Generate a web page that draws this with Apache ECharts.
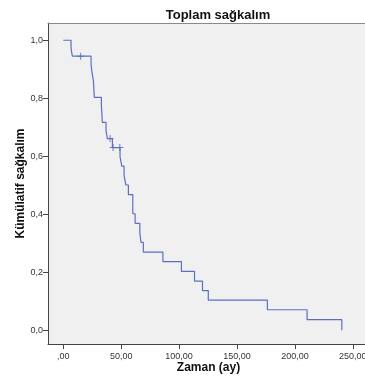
<!DOCTYPE html>
<html>
<head>
<meta charset="utf-8">
<script src="https://cdn.jsdelivr.net/npm/echarts@6/dist/echarts.min.js"></script>
<style>
html,body{margin:0;padding:0;background:#fff;}
#c{width:365px;height:385px;}
</style>
</head>
<body>
<div id="c"></div>
<script>
// Kaplan-Meier step data (time in months, cumulative survival)
const times = [0, 6.7, 7.8, 24, 24.8, 26, 26.8, 32.9, 33.7, 36.9, 38.1, 42.4, 49, 50.5, 52.5, 54, 56.2, 60, 62, 66.1, 67.1, 69.1, 86, 102, 113.3, 120.2, 125.2, 176.2, 210.5, 240.5];
const survival = [1.0, 0.972, 0.945, 0.917, 0.889, 0.860, 0.803, 0.775, 0.717, 0.688, 0.661, 0.630, 0.598, 0.566, 0.534, 0.501, 0.468, 0.402, 0.369, 0.336, 0.303, 0.270, 0.237, 0.203, 0.170, 0.137, 0.104, 0.071, 0.037, 0.0];
// censored observations
const censorTimes = [15, 40.4, 43.0, 48.8];
const censorSurv = [0.945, 0.661, 0.630, 0.630];
const xTicks = [0, 50, 100, 150, 200, 250];
const yTicks = [0, 0.2, 0.4, 0.6, 0.8, 1.0];

const lineData = times.map((t, i) => [t, survival[i]]);
const censorData = censorTimes.map((t, i) => [t, censorSurv[i]]);

const chart = echarts.init(document.getElementById('c'), null, {renderer: 'canvas'});
const fmtX = v => {
  const s = v.toFixed(2).replace('.', ',');
  return s.startsWith('0,') ? s.slice(1) : s;
};
const fmtY = v => v.toFixed(1).replace('.', ',');
const lineColor = '#5b6fc2';
const xMin = -13.2, xMax = 260.5;
chart.setOption({
  animation: false,
  backgroundColor: '#ffffff',
  title: {
    text: 'Toplam sağkalım',
    left: 213, top: 4, textAlign: 'center',
    textStyle: {fontFamily: 'Liberation Sans', fontWeight: 'bold', fontSize: 13, color: '#111'}
  },
  grid: {
    left: 48, right: 0, top: 23, bottom: 41,
    show: true, backgroundColor: '#f0f0f0', borderWidth: 0,
    containLabel: false, outerBoundsMode: 'none'
  },
  xAxis: [{
    type: 'value', min: xMin, max: xMax,
    name: 'Zaman (ay)', nameLocation: 'middle', nameGap: 18, nameMoveOverlap: false,
    nameTextStyle: {fontFamily: 'Liberation Sans', fontWeight: 'bold', fontSize: 12, color: '#111', padding: [0, 0, 0, 4]},
    axisLine: {show: true, onZero: false, lineStyle: {color: '#444', width: 1}},
    axisTick: {show: true, length: 5, lineStyle: {color: '#444'}, customValues: xTicks},
    axisLabel: {fontFamily: 'Liberation Sans', fontSize: 9, color: '#333', margin: 8, customValues: xTicks, formatter: fmtX},
    splitLine: {show: false}
  }, {
    type: 'value', position: 'top', min: xMin, max: xMax,
    axisLine: {show: true, onZero: false, lineStyle: {color: '#8a8a8a', width: 1}},
    axisTick: {show: false}, axisLabel: {show: false}, splitLine: {show: false}
  }],
  yAxis: {
    type: 'value', min: -0.047, max: 1.0595,
    name: 'Kümülatif sağkalım', nameLocation: 'middle', nameGap: 21, nameRotate: 90, nameMoveOverlap: false,
    nameTextStyle: {fontFamily: 'Liberation Sans', fontWeight: 'bold', fontSize: 12, color: '#111'},
    axisLine: {show: true, onZero: false, lineStyle: {color: '#444', width: 1}},
    axisTick: {show: true, length: 5, lineStyle: {color: '#444'}, customValues: yTicks},
    axisLabel: {fontFamily: 'Liberation Sans', fontSize: 9, color: '#333', margin: 5, customValues: yTicks, formatter: fmtY},
    splitLine: {show: false}
  },
  series: [
    {
      type: 'line', step: 'end', data: lineData, showSymbol: false, symbol: 'none',
      lineStyle: {color: lineColor, width: 1.2}, z: 3
    },
    {
      type: 'scatter', data: censorData,
      symbol: 'path://M3,0 H4 V3 H7 V4 H4 V7 H3 V4 H0 V3 H3 Z', symbolSize: 7,
      itemStyle: {color: lineColor, opacity: 0.9}, z: 4
    }
  ]
});
</script>
</body>
</html>
